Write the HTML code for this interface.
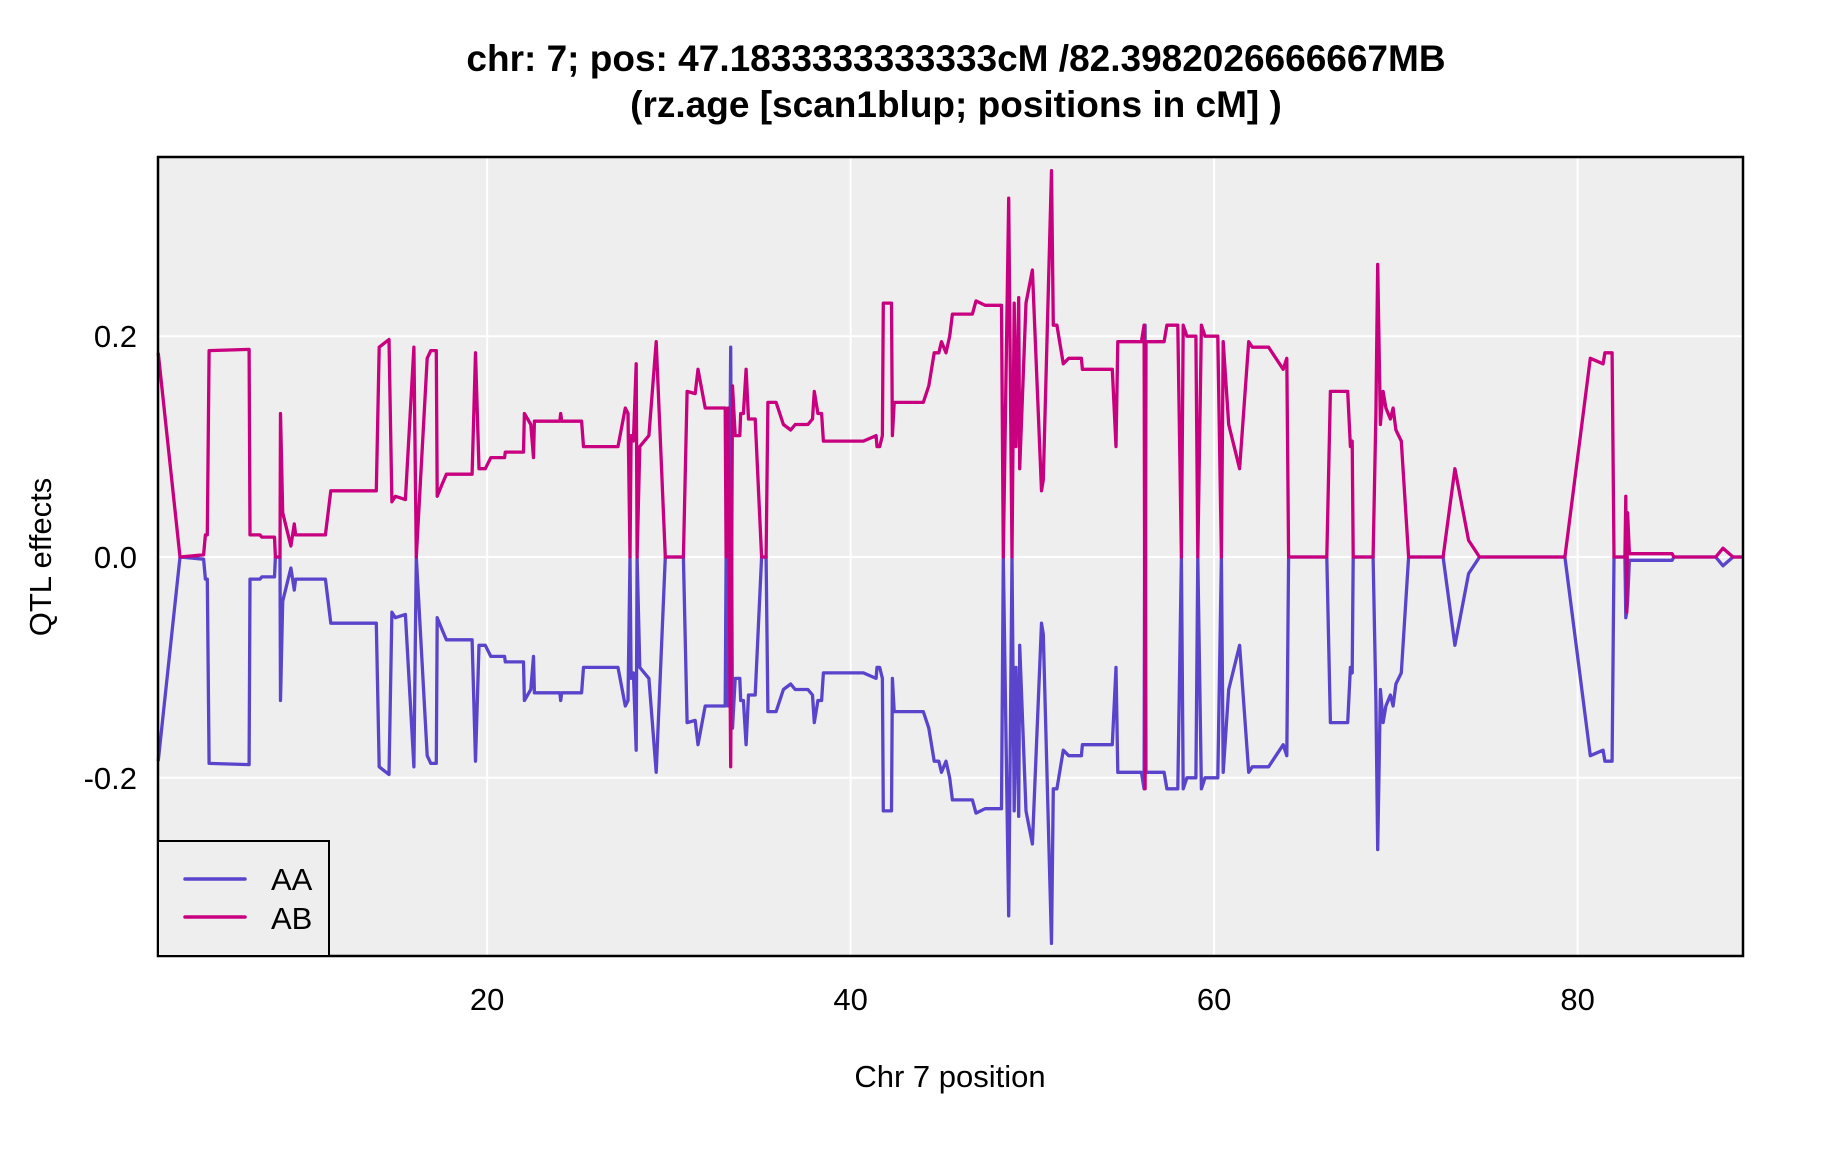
<!DOCTYPE html>
<html><head><meta charset="utf-8"><style>
html,body{margin:0;padding:0;background:#fff;}
svg{display:block;font-family:"Liberation Sans",Arial,sans-serif;}
</style></head><body>
<svg id="chart" width="1824" height="1152" viewBox="0 0 1824 1152">
<text x="956" y="71" text-anchor="middle" font-size="37" font-weight="bold">chr: 7; pos: 47.1833333333333cM /82.3982026666667MB</text>
<text x="956" y="117" text-anchor="middle" font-size="37" font-weight="bold">(rz.age [scan1blup; positions in cM] )</text>
<rect x="158" y="157" width="1585" height="799" fill="#eeeeee"/>
<g id="grid"></g>
<g id="series"></g>
<rect x="158" y="157" width="1585" height="799" fill="none" stroke="#000" stroke-width="2.5"/>
<g id="ticks"></g>
<text x="950" y="1087" text-anchor="middle" font-size="31">Chr 7 position</text>
<text transform="translate(51,557) rotate(-90)" text-anchor="middle" font-size="31">QTL effects</text>
<g>
<rect x="158" y="841" width="171" height="115" fill="#eeeeee" stroke="#000" stroke-width="2"/>
<line x1="185" y1="879" x2="245" y2="879" stroke="#5a44cc" stroke-width="3.5" stroke-linecap="round"/>
<text x="271" y="890" font-size="31">AA</text>
<line x1="185" y1="917" x2="245" y2="917" stroke="#c8007f" stroke-width="3.5" stroke-linecap="round"/>
<text x="271" y="929" font-size="31">AB</text>
</g>
</svg>
<script>
const xTicks = [20, 40, 60, 80];
const yTicks = [-0.2, 0.0, 0.2];
const yTickLabels = ["-0.2", "0.0", "0.2"];
const positions = [1.9,3.1,4.4,4.5,4.6,4.7,6.9,6.95,7.5,7.6,8.3,8.35,8.6,8.63,8.75,9.2,9.39,9.46,11.1,11.4,13.9,14.06,14.6,14.76,14.95,15.5,15.97,16.1,16.7,16.9,17.2,17.25,17.5,17.76,19.17,19.36,19.55,19.9,20.2,20.96,21.0,22.0,22.05,22.4,22.55,22.6,24.0,24.05,24.1,25.2,25.3,27.2,27.6,27.75,27.86,27.92,28.05,28.2,28.25,28.4,28.9,29.3,29.8,30.8,31.0,31.45,31.6,32.0,33.1,33.15,33.25,33.4,33.5,33.65,33.9,33.95,34.1,34.25,34.38,34.75,35.1,35.35,35.45,35.9,36.3,36.7,36.95,37.65,37.9,38.0,38.2,38.4,38.5,40.7,41.4,41.45,41.6,41.75,41.8,42.25,42.3,42.4,44.0,44.3,44.6,44.85,45.0,45.25,45.45,45.6,46.7,46.9,47.4,48.3,48.4,48.7,48.88,49.0,49.1,49.25,49.3,49.65,50.0,50.5,50.6,51.05,51.15,51.35,51.7,52.0,52.7,52.75,53.8,54.4,54.6,54.7,56.0,56.15,56.2,56.25,57.25,57.4,58.0,58.2,58.3,58.5,59.0,59.1,59.3,59.5,60.2,60.4,60.5,60.8,61.4,61.9,62.1,63.0,63.8,64.0,64.1,66.2,66.4,67.35,67.5,67.6,67.65,68.75,68.9,69.0,69.15,69.3,69.45,69.7,69.85,70.0,70.3,70.7,72.6,73.25,74.0,74.6,79.3,80.7,81.4,81.5,81.9,82.0,82.6,82.65,82.7,82.75,82.85,85.2,85.3,87.6,88.0,88.55,89.1];
const abValues = [0.185,0.0,0.002,0.02,0.02,0.187,0.188,0.02,0.02,0.018,0.018,0.0,0.0,0.13,0.04,0.01,0.03,0.02,0.02,0.06,0.06,0.19,0.197,0.05,0.055,0.052,0.19,0.0,0.18,0.187,0.187,0.055,0.065,0.075,0.075,0.185,0.08,0.08,0.09,0.09,0.095,0.095,0.13,0.12,0.09,0.123,0.123,0.13,0.123,0.123,0.1,0.1,0.135,0.13,0.0,0.11,0.105,0.175,0.0,0.1,0.11,0.195,0.0,0.0,0.15,0.148,0.17,0.135,0.135,0.0,0.135,-0.19,0.155,0.11,0.11,0.13,0.13,0.17,0.125,0.125,0.0,0.0,0.14,0.14,0.12,0.115,0.12,0.12,0.125,0.15,0.13,0.13,0.105,0.105,0.11,0.1,0.1,0.11,0.23,0.23,0.11,0.14,0.14,0.155,0.185,0.185,0.195,0.185,0.2,0.22,0.22,0.232,0.228,0.228,0.0,0.325,0.0,0.23,0.1,0.235,0.08,0.23,0.26,0.06,0.07,0.35,0.21,0.21,0.175,0.18,0.18,0.17,0.17,0.17,0.1,0.195,0.195,0.21,-0.21,0.195,0.195,0.21,0.21,0.0,0.21,0.2,0.2,0.0,0.21,0.2,0.2,0.0,0.195,0.12,0.08,0.195,0.19,0.19,0.17,0.18,0.0,0.0,0.15,0.15,0.1,0.105,0.0,0.0,0.13,0.265,0.12,0.15,0.135,0.125,0.135,0.115,0.105,0.0,0.0,0.08,0.015,0.0,0.0,0.18,0.175,0.185,0.185,0.0,0.0,0.055,-0.05,0.04,0.003,0.003,0.0,0.0,0.008,0.0,0.0];
const aaValues = [-0.185,0.0,-0.002,-0.02,-0.02,-0.187,-0.188,-0.02,-0.02,-0.018,-0.018,0.0,0.0,-0.13,-0.04,-0.01,-0.03,-0.02,-0.02,-0.06,-0.06,-0.19,-0.197,-0.05,-0.055,-0.052,-0.19,0.0,-0.18,-0.187,-0.187,-0.055,-0.065,-0.075,-0.075,-0.185,-0.08,-0.08,-0.09,-0.09,-0.095,-0.095,-0.13,-0.12,-0.09,-0.123,-0.123,-0.13,-0.123,-0.123,-0.1,-0.1,-0.135,-0.13,0.0,-0.11,-0.105,-0.175,0.0,-0.1,-0.11,-0.195,0.0,0.0,-0.15,-0.148,-0.17,-0.135,-0.135,0.0,-0.135,0.19,-0.155,-0.11,-0.11,-0.13,-0.13,-0.17,-0.125,-0.125,0.0,0.0,-0.14,-0.14,-0.12,-0.115,-0.12,-0.12,-0.125,-0.15,-0.13,-0.13,-0.105,-0.105,-0.11,-0.1,-0.1,-0.11,-0.23,-0.23,-0.11,-0.14,-0.14,-0.155,-0.185,-0.185,-0.195,-0.185,-0.2,-0.22,-0.22,-0.232,-0.228,-0.228,0.0,-0.325,0.0,-0.23,-0.1,-0.235,-0.08,-0.23,-0.26,-0.06,-0.07,-0.35,-0.21,-0.21,-0.175,-0.18,-0.18,-0.17,-0.17,-0.17,-0.1,-0.195,-0.195,-0.21,0.21,-0.195,-0.195,-0.21,-0.21,0.0,-0.21,-0.2,-0.2,0.0,-0.21,-0.2,-0.2,0.0,-0.195,-0.12,-0.08,-0.195,-0.19,-0.19,-0.17,-0.18,0.0,0.0,-0.15,-0.15,-0.1,-0.105,0.0,0.0,-0.13,-0.265,-0.12,-0.15,-0.135,-0.125,-0.135,-0.115,-0.105,0.0,0.0,-0.08,-0.015,0.0,0.0,-0.18,-0.175,-0.185,-0.185,0.0,0.0,-0.055,-0.05,-0.04,-0.003,-0.003,0.0,0.0,-0.008,0.0,0.0];

const NS = "http://www.w3.org/2000/svg";
const X0 = 158, X1 = 1743, Y0 = 157, Y1 = 956;
const xMin = 1.89, xMax = 89.1;
function xScale(v){ return X0 + (v - xMin) / (xMax - xMin) * (X1 - X0); }
function yScale(v){ return 557 - v * 1104; }

const grid = document.getElementById('grid');
const ticks = document.getElementById('ticks');
xTicks.forEach(t => {
  const l = document.createElementNS(NS, 'line');
  l.setAttribute('x1', xScale(t)); l.setAttribute('x2', xScale(t));
  l.setAttribute('y1', Y0); l.setAttribute('y2', Y1);
  l.setAttribute('stroke', '#fff'); l.setAttribute('stroke-width', '2');
  
  
  grid.appendChild(l);
  const tx = document.createElementNS(NS, 'text');
  tx.setAttribute('x', xScale(t)); tx.setAttribute('y', 1010);
  tx.setAttribute('text-anchor', 'middle'); tx.setAttribute('font-size', '31');
  tx.textContent = String(t);
  
  
  ticks.appendChild(tx);
});
yTicks.forEach((t, i) => {
  const l = document.createElementNS(NS, 'line');
  l.setAttribute('x1', X0); l.setAttribute('x2', X1);
  l.setAttribute('y1', yScale(t)); l.setAttribute('y2', yScale(t));
  l.setAttribute('stroke', '#fff'); l.setAttribute('stroke-width', '2');
  
  
  grid.appendChild(l);
  const tx = document.createElementNS(NS, 'text');
  tx.setAttribute('x', 137); tx.setAttribute('y', yScale(t) + 11);
  tx.setAttribute('text-anchor', 'end'); tx.setAttribute('font-size', '31');
  tx.textContent = yTickLabels[i];
  
  
  ticks.appendChild(tx);
});

const series = document.getElementById('series');
function drawLine(vals, color, name){
  const pts = positions.map((p, i) => xScale(p).toFixed(1) + ',' + yScale(vals[i]).toFixed(1)).join(' ');
  const pl = document.createElementNS(NS, 'polyline');
  pl.setAttribute('points', pts);
  pl.setAttribute('fill', 'none');
  pl.setAttribute('stroke', color);
  pl.setAttribute('stroke-width', '3.3');
  pl.setAttribute('stroke-linejoin', 'round');
  
  
  series.appendChild(pl);
}
drawLine(aaValues, '#5a44cc', 'aa-line');
drawLine(abValues, '#c8007f', 'ab-line');
</script>
</body></html>
